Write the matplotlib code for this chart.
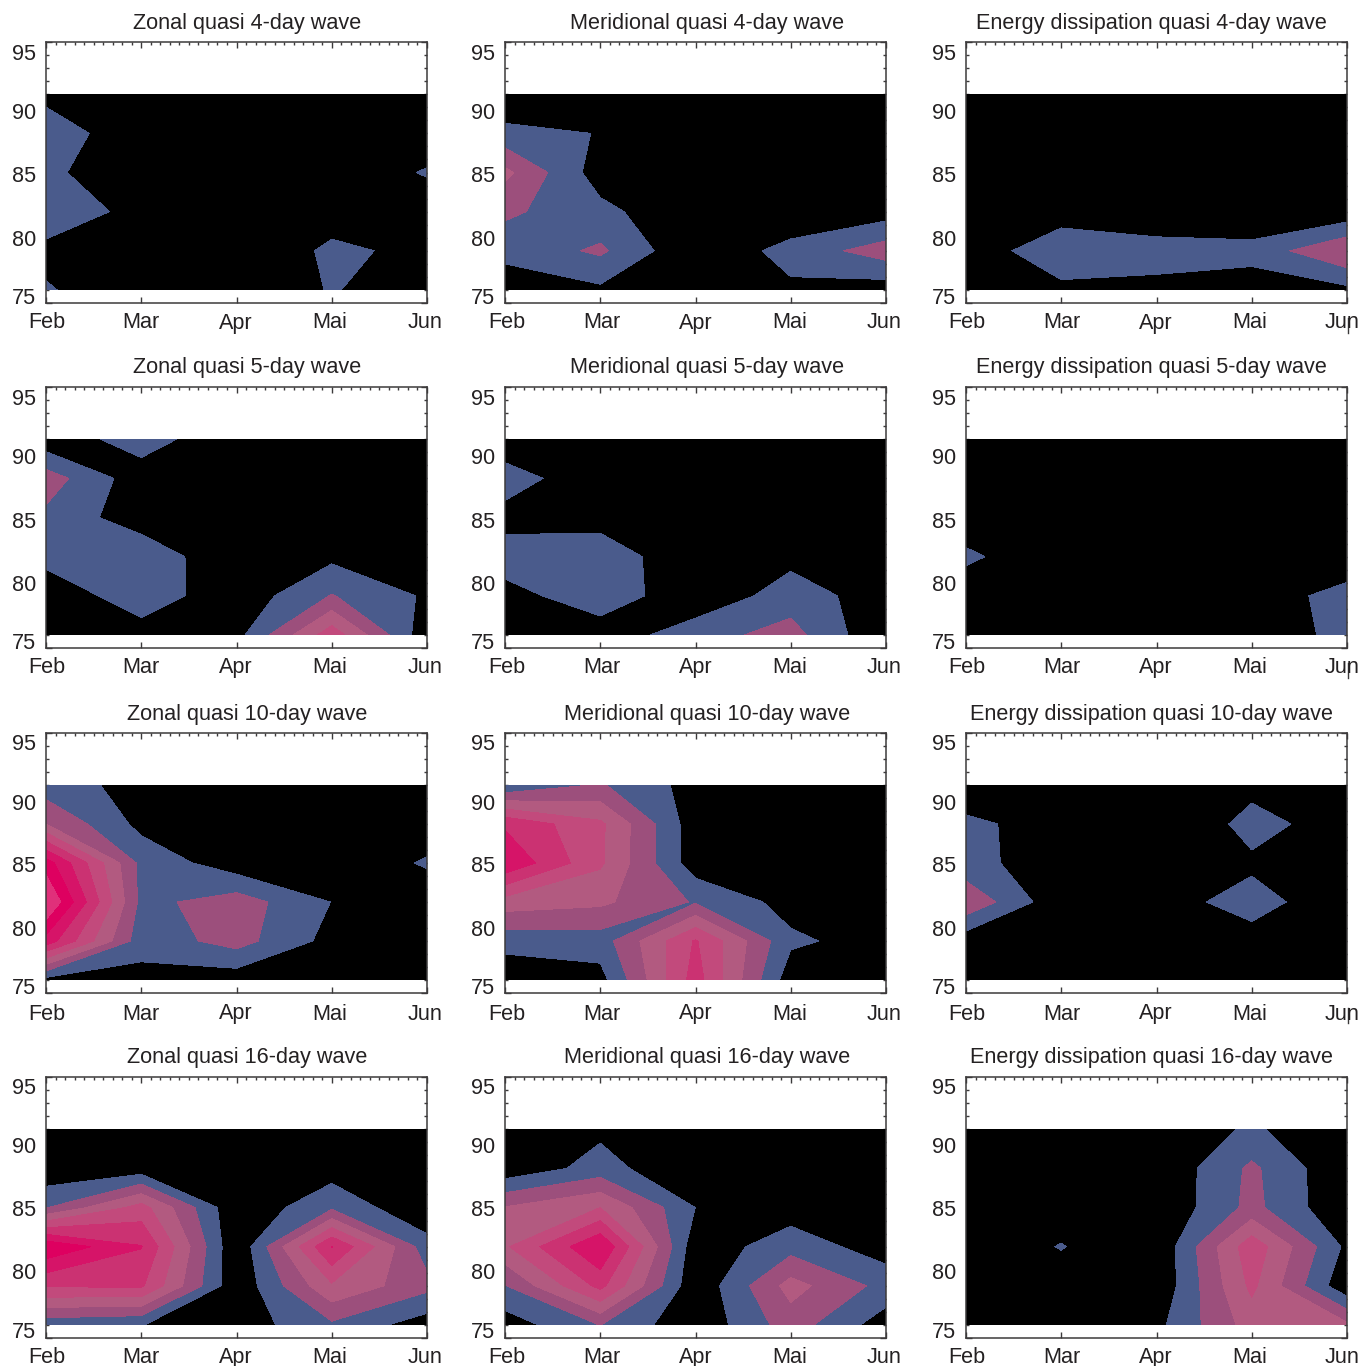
import numpy as np
import matplotlib
matplotlib.use("Agg")
import matplotlib.pyplot as plt
import matplotlib.tri as mtri
from matplotlib.lines import Line2D
from matplotlib.ticker import MultipleLocator

plt.rcParams["font.family"] = ["Liberation Sans", "DejaVu Sans"]

W, H = 1362, 1366
TXT = "#242122"
FRAME = "#3c3a3b"

months = ["Feb", "Mar", "Apr", "Mai", "Jun"]
month_pos = [0, 1, 2, 3, 4]
height_km = [76, 79, 82, 85, 88, 91]
height_ticks = [75, 80, 85, 90, 95]

# wave amplitude, rows are heights (76 km first), columns are months
zonal_4 = [[1.08, .4, .43, 1.05, .55],
           [.74, .3, .09, 1.2, .75],
           [1.6, .7, .1, .53, .3],
           [1.2, .3, .1, .2, 1.1],
           [1.5, .4, .1, .1, .3],
           [.75, .1, .1, .1, .1]]
merid_4 = [[.3, .8, .1, .8, .45],
           [1.35, 2.17, .1, 1.39, 2.5],
           [2.2, 1.3, .1, .1, .53],
           [3.25, .47, .1, .1, .1],
           [1.27, .97, .1, .1, .1],
           [.22, .1, .1, .1, .1]]
energy_4 = [[.2, .75, .67, .45, .75],
            [.35, 1.7, 1.5, 1.37, 2.95],
            [.2, .5, .1, .05, .3],
            [.1, .1, .1, .1, .1],
            [.1, .1, .1, .1, .1],
            [.1, .1, .1, .1, .1]]

zonal_5 = [[.1, .52, .65, 4.6, .3],
           [.27, 1.6, .3, 2.05, .86],
           [1.34, 1.79, .07, .76, .2],
           [1.76, .4, .1, .1, .1],
           [2.5, .4, .1, .1, .1],
           [.3, 1.53, .1, .1, .1]]
merid_5 = [[.1, .34, 1.6, 2.38, .08],
           [.55, 1.7, .2, 1.5, .48],
           [1.6, 1.75, .05, .7, .1],
           [.54, .5, .05, .1, .1],
           [1.6, .1, .1, .1, .1],
           [.1, .1, .1, .1, .1]]
energy_5 = [[.1, .1, .1, .36, 1.3],
            [.34, .1, .1, .25, 1.5],
            [1.2, .2, .1, .1, .05],
            [.34, .1, .1, .1, .1],
            [.1, .1, .1, .1, .1],
            [.1, .1, .1, .1, .1]]

zonal_10 = [[.6, .65, .4, .15, .1],
            [6.6, 1.4, 2.4, .65, .1],
            [9.15, 1.7, 2.5, .98, .1],
            [7.5, 1.7, .4, .05, 1.15],
            [3, .7, .1, .1, .2],
            [1.4, .7, .1, .1, .1]]
merid_10 = [[.3, .62, 5.45, .4, .1],
            [1.35, 1.5, 5.1, 1.18, .56],
            [3.53, 3.2, 1.9, .63, .1],
            [6.86, 4.15, .42, .1, .1],
            [5.84, 4.2, .38, .1, .1],
            [1.05, 2.1, .6, .1, .1]]
energy_10 = [[.1, .1, .1, .2, .1],
             [.38, .1, .3, .7, .2],
             [2.8, .24, .67, 1.3, .47],
             [1.3, .47, .2, .85, .2],
             [1.2, .6, .05, 1.3, .57],
             [.34, .1, .1, .74, .1]]

zonal_16 = [[1.3, 1.02, .44, 1.8, .45],
            [5.1, 5.15, .2, 3.85, 2.3],
            [7.85, 6.05, .1, 6.05, 1.44],
            [1.95, 4.4, .15, 1.8, .1],
            [.2, .4, .1, .5, .1],
            [.1, .1, .1, .1, .1]]
merid_16 = [[.45, 2.02, .2, 2.5, .45],
            [1.95, 5.3, .2, 3.37, 1.65],
            [3.85, 7.0, .33, 1.6, .47],
            [3.05, 4.0, .99, .45, .1],
            [.26, 1.4, .1, .1, .1],
            [.1, .78, .1, .1, .1]]
energy_16 = [[.1, .1, .72, 3.45, 3.2],
             [.1, .5, .14, 4.23, .2],
             [.3, 1.05, .1, 4.65, .75],
             [.1, .5, .08, 2.3, .1],
             [.1, .1, .1, 2.2, .1],
             [.1, .1, .2, 1.15, .1]]

levels = [-1, 1, 2, 3, 4, 5, 6, 7, 8, 10]
band_colors = ["#000000", "#4a5b8c", "#9c4f7c", "#b25a80", "#c24a7c",
               "#cb3272", "#d61468", "#de0060", "#e0307a"]

titles = [["Zonal quasi 4-day wave", "Meridional quasi 4-day wave", "Energy dissipation quasi 4-day wave"],
          ["Zonal quasi 5-day wave", "Meridional quasi 5-day wave", "Energy dissipation quasi 5-day wave"],
          ["Zonal quasi 10-day wave", "Meridional quasi 10-day wave", "Energy dissipation quasi 10-day wave"],
          ["Zonal quasi 16-day wave", "Meridional quasi 16-day wave", "Energy dissipation quasi 16-day wave"]]
grids = [[zonal_4, merid_4, energy_4],
         [zonal_5, merid_5, energy_5],
         [zonal_10, merid_10, energy_10],
         [zonal_16, merid_16, energy_16]]

# panel frames in pixels
col_left = [46, 505, 966]
col_right = [427, 886, 1347]
row_top = [42, 387, 733, 1077]
row_bottom = [303, 648, 993, 1338]
title_x = [247, 707, 1151]
title_y = [23, 368, 714, 1057]
month_label_y = [25.5, 25.5, 26.5, 25]
month_label_x = [[47, 141, 236, 330, 425], [507, 602, 696, 790, 884], [967, 1062, 1156, 1250, 1342]]
ylabel_shift = [-6, 1, 3, 5, 11]  # the labels sit off their ticks in the original
ylabel_row = [1.5, 1.5, 1, 0]


def put(fig, x, y, s, va="center", **kw):
    fig.text(x / W, 1 - y / H, s, color=TXT, va=va, **kw)


def saddle_triangles(z):
    # saddle cells only, cut along the diagonal joining the two lower corners,
    # the original keeps high areas apart there
    nx = len(month_pos)
    tris = []
    for j in range(len(height_km) - 1):
        for i in range(nx - 1):
            a, b = j * nx + i, j * nx + i + 1
            c, d = (j + 1) * nx + i, (j + 1) * nx + i + 1
            lo1, hi1 = sorted([z[a], z[d]])
            lo2, hi2 = sorted([z[b], z[c]])
            if np.floor(lo1) > np.floor(hi2) and lo1 >= 1:
                tris += [[a, b, c], [b, d, c]]
            elif np.floor(lo2) > np.floor(hi1) and lo2 >= 1:
                tris += [[a, b, d], [a, d, c]]
    return tris


mx, my = np.meshgrid(month_pos, height_km)
mx, my = mx.ravel(), my.ravel()

fig = plt.figure(figsize=(W / 100, H / 100), dpi=100)
for r in range(4):
    for c in range(3):
        ax = fig.add_axes([col_left[c] / W, 1 - row_bottom[r] / H,
                           (col_right[c] - col_left[c]) / W,
                           (row_bottom[r] - row_top[r]) / H])
        z = np.array(grids[r][c])
        ax.contourf(month_pos, height_km, z, levels=levels, colors=band_colors, zorder=1)
        tris = saddle_triangles(z.ravel())
        if tris:
            tri = mtri.Triangulation(mx, my, tris)
            ax.tricontourf(tri, z.ravel(), levels=levels, colors=band_colors, zorder=1.1)
        ax.set_xlim(0, 4)
        ax.set_ylim(75, 95)
        ax.set_axisbelow(True)
        ax.set_xticks(month_pos)
        ax.set_yticks(height_ticks)
        ax.set_xticklabels([])
        ax.set_yticklabels([])
        ax.xaxis.set_minor_locator(MultipleLocator(0.1))
        ax.yaxis.set_minor_locator(MultipleLocator(1))
        ax.tick_params(which="major", direction="in", top=True, right=True, length=4.5, width=1, color=FRAME)
        ax.tick_params(which="minor", direction="in", top=True, right=True, bottom=False, length=2, width=1, color=FRAME)
        for sp in ax.spines.values():
            sp.set_linewidth(1.1)
            sp.set_color(FRAME)

        put(fig, title_x[c], title_y[r], titles[r][c], ha="center", fontsize=15.6)
        for m, lab in enumerate(months):
            put(fig, month_label_x[c][m], row_bottom[r] + month_label_y[r], lab, va="baseline", ha="center", fontsize=15.6)
        for t, tk in enumerate(height_ticks):
            tick_y = row_bottom[r] - (tk - 75) * (row_bottom[r] - row_top[r]) / 20
            put(fig, col_left[c] - 10, tick_y + ylabel_shift[t] + ylabel_row[r], str(tk), ha="right", fontsize=15.6)

# stray tick lines over the last label of the right column
for r in range(3):
    y0 = row_bottom[r] + 15
    fig.add_artist(Line2D([1348 / W, 1348 / W], [1 - y0 / H, 1 - (y0 + 15) / H], color=FRAME, lw=1))

fig.savefig("out.png", dpi=100)
